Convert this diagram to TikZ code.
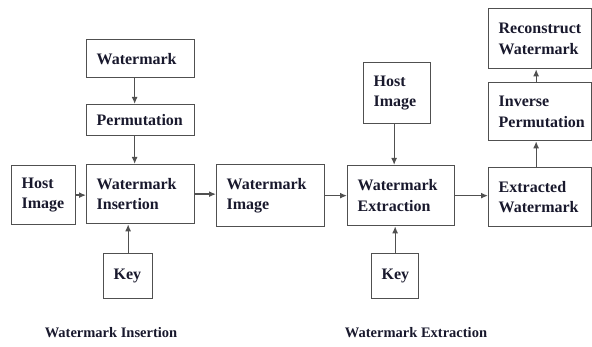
\documentclass[tikz,border=0pt]{standalone}
\usepackage{fontspec}
\setmainfont{Liberation Serif}[BoldFont={Liberation Serif Bold}]
\usetikzlibrary{arrows.meta,calc}
\definecolor{edge}{RGB}{80,80,80}
\definecolor{ink}{RGB}{25,25,45}
\begin{document}
\begin{tikzpicture}[x=1pt,y=-1pt,
  blk/.style={draw=edge, line width=1.3pt, inner xsep=10pt, inner ysep=0pt, align=left,
    font=\rmfamily\bfseries\fontsize{16}{20.5}\selectfont, text=ink, anchor=north west},
  arr/.style={draw=edge, line width=1.3pt, -{Latex[length=7pt,width=6pt]}},
  captext/.style={font=\rmfamily\bfseries\fontsize{14.5}{17}\selectfont, text=ink}]
\useasboundingbox (0,0) rectangle (592,347);
% insertion side
\node[blk, minimum width=108pt, minimum height=38pt, text width=88pt] (wm) at (86,39) {Watermark};
\node[blk, minimum width=108pt, minimum height=31pt, text width=88pt] (perm) at (86,104) {Permutation};
\node[blk, minimum width=108pt, minimum height=59pt, text width=88pt] (ins) at (86,164) {Watermark\\Insertion};
\node[blk, minimum width=64pt, minimum height=59pt, text width=44pt] (host) at (11,165) {Host\\Image};
\node[blk, minimum width=49pt, minimum height=45pt, text width=29pt] (key) at (103,253) {Key};
% middle
\node[blk, minimum width=108pt, minimum height=62pt, text width=88pt] (wmi) at (216,164) {Watermark\\Image};
% extraction side
\node[blk, minimum width=107pt, minimum height=60pt, text width=87pt] (ext) at (347,165) {Watermark\\Extraction};
\node[blk, minimum width=67pt, minimum height=61pt, text width=47pt] (host2) at (363,62) {Host\\Image};
\node[blk, minimum width=47pt, minimum height=45pt, text width=27pt] (key2) at (371,253) {Key};
\node[blk, minimum width=103pt, minimum height=59pt, text width=83pt] (extd) at (488,167) {Extracted\\Watermark};
\node[blk, minimum width=103pt, minimum height=58pt, text width=83pt] (inv) at (488,82) {Inverse\\Permutation};
\node[blk, minimum width=103pt, minimum height=60pt, text width=83pt] (rec) at (488,8) {Reconstruct\\Watermark};
% arrows
\draw[arr] ([xshift=-6pt]wm.south) -- ([xshift=-6pt]perm.north);
\draw[arr] ([xshift=-6pt]perm.south) -- ([xshift=-6pt]ins.north);
\draw[arr] (host.east) -- (host.east -| ins.west);
\draw[arr] (key.north) -- (key.north |- ins.south);
\draw[arr] (ins.east) -- (ins.east -| wmi.west);
\draw[arr] (wmi.east) -- (wmi.east -| ext.west);
\draw[arr] ([xshift=-3pt]host2.south) -- ([xshift=-3pt]host2.south |- ext.north);
\draw[arr] (key2.north) -- (key2.north |- ext.south);
\draw[arr] (ext.east) -- (ext.east -| extd.west);
\draw[arr] ([xshift=-4pt]extd.north) -- ([xshift=-4pt]inv.south);
\draw[arr] ([xshift=-4pt]inv.north) -- ([xshift=-4pt]rec.south);
% captions
\node[captext] (c1) at (111,333) {Watermark Insertion};
\node[captext] (c2) at (416,333) {Watermark Extraction};
\end{tikzpicture}
\end{document}
